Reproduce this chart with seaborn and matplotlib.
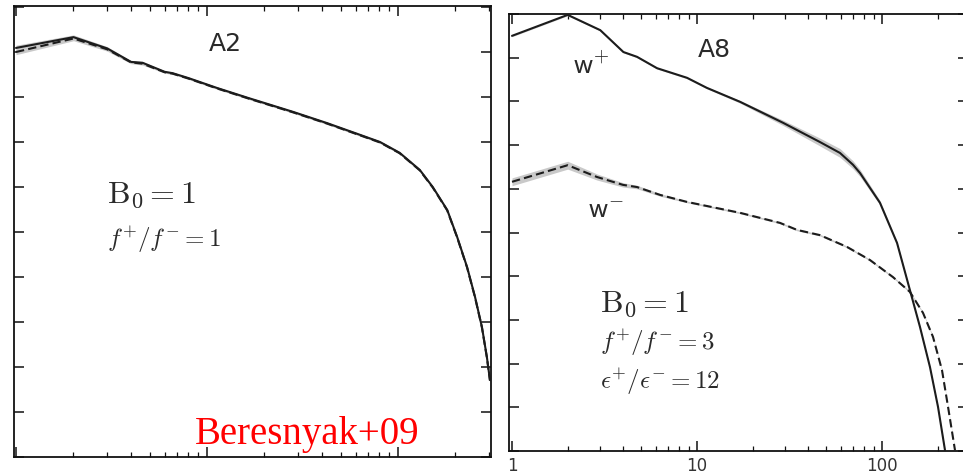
import numpy as np
import pandas as pd
import matplotlib
matplotlib.use("Agg")
import matplotlib.pyplot as plt
import seaborn as sns

# ---- spectra, log10 E(k) versus wavenumber k ----
# run A2 (balanced)
k_a2 = [1, 2, 3, 4, 4.6, 6, 6.6, 8, 11.3, 16.4, 28.2, 42.5, 63.2, 80.5, 102, 130, 152,
        181, 204, 230, 253, 275, 292, 303]
a2_plus = [-0.91, -0.67, -0.92, -1.22, -1.24, -1.44, -1.47, -1.58, -1.80, -2.02, -2.33, -2.58,
           -2.84, -3.00, -3.24, -3.62, -4.00, -4.51, -5.11, -5.78, -6.44, -7.11, -7.78, -8.29]
a2_minus = [-1.00, -0.70, -0.94, -1.23, -1.26, -1.45, -1.48, -1.59, -1.81, -2.03, -2.34, -2.59,
            -2.85, -3.01, -3.25, -3.63, -4.01, -4.52, -5.12, -5.79, -6.45, -7.12, -7.79, -8.30]
a2_band = [0.06, 0.05, 0.04, 0.03, 0.03, 0.02, 0.02, 0.02, 0.02, 0.02, 0.02, 0.02,
           0.02, 0.02, 0.02, 0.02, 0.02, 0.02, 0.02, 0.02, 0.02, 0.02, 0.02, 0.02]

# run A8 (imbalanced)
k_a8p = [1, 2, 3, 4, 4.74, 6.08, 8.83, 11.3, 17.1, 29.2, 46.2, 59.3, 69.7, 76.1, 97.5,
         120.6, 141.6, 160.4, 181.7, 200.8, 219]
a8_plus = [-0.50, -0.02, -0.37, -0.87, -0.98, -1.24, -1.46, -1.69, -2.01, -2.49, -2.93, -3.18,
           -3.45, -3.64, -4.32, -5.24, -6.32, -7.16, -8.08, -8.99, -9.98]
a8p_band = [0.02, 0.02, 0.02, 0.02, 0.02, 0.02, 0.02, 0.02, 0.03, 0.06, 0.09, 0.10,
            0.09, 0.08, 0.05, 0.03, 0.02, 0.02, 0.02, 0.02, 0.02]

k_a8m = [1, 2, 2.88, 3.98, 4.74, 6.32, 8.83, 17.1, 28.1, 34.7, 46.2, 64.7, 86.1, 114.6,
         141.6, 166.6, 188.7, 211, 227.5, 248]
a8_minus = [-3.84, -3.46, -3.73, -3.91, -3.96, -4.14, -4.30, -4.55, -4.78, -4.94, -5.06, -5.33,
            -5.63, -6.02, -6.36, -6.84, -7.39, -8.15, -8.99, -9.98]
a8m_band = [0.09, 0.09, 0.07, 0.05, 0.04, 0.03, 0.02, 0.02, 0.02, 0.02, 0.02, 0.02,
            0.02, 0.02, 0.02, 0.02, 0.02, 0.02, 0.02, 0.02]

x_ticklabels = ["1", "10", "100"]

sns.set_style("ticks")
plt.rcParams["font.family"] = ["DejaVu Sans"]
plt.rcParams["mathtext.fontset"] = "cm"

W, H = 963, 476
fig = plt.figure(figsize=(W / 100, H / 100), dpi=100)
fig.patch.set_facecolor("white")

ax1 = fig.add_axes([14 / W, 19 / H, 477 / W, 451 / H])
ax2 = fig.add_axes([509 / W, 25 / H, 459 / W, 437 / H])

line_col = "#1c1c1c"
band_col = "#c9c9c9"


def draw(ax, k, v, band, dashed):
    k = np.asarray(k, float)
    v = np.asarray(v, float)
    b = np.asarray(band, float)
    ax.fill_between(k, v - b, v + b, color=band_col, lw=0, zorder=1)
    df = pd.DataFrame({"k": k, "logE": v})
    sns.lineplot(data=df, x="k", y="logE", ax=ax, color=line_col, lw=1.5,
                 linestyle=(0, (4, 2)) if dashed else "-", zorder=3, sort=False)


draw(ax1, k_a2, a2_plus, a2_band, False)
draw(ax1, k_a2, a2_minus, a2_band, True)
draw(ax2, k_a8p, a8_plus, a8p_band, False)
draw(ax2, k_a8m, a8_minus, a8m_band, True)

ax1.set_xlim(10 ** (-2 / 191), 10 ** (475 / 191))
ax2.set_xlim(10 ** (-3 / 185), 10 ** (456 / 185))
ax1.set_ylim(-10, -10 + 451 / 45)
ax2.set_ylim(-10, 0.0)

for ax in (ax1, ax2):
    ax.set_xscale("log")
    ax.set_yticks(np.arange(-10, 1, 1))
    ax.set_xlabel("")
    ax.set_ylabel("")
    for s in ax.spines.values():
        s.set_visible(True)
        s.set_linewidth(1.3)
        s.set_color("#111111")
    ax.tick_params(axis="both", which="major", direction="in", length=7, width=1.1,
                   top=True, right=True, color="#111111")
    ax.tick_params(axis="x", which="minor", direction="in", length=3.5, width=0.9,
                   top=True, color="#111111")
    ax.tick_params(axis="y", labelleft=False)
    ax.set_facecolor("white")

ax1.tick_params(axis="x", which="both", labelbottom=False)
ax2.set_xticks([1, 10, 100])
ax2.set_xticklabels(x_ticklabels)
ax2.tick_params(axis="x", which="major", labelsize=12, labelcolor="#333333", pad=4)
ax2.tick_params(axis="x", which="minor", labelbottom=False)


def put(x, y, s, **kw):
    fig.text(x / W, 1 - y / H, s, **kw)


txt = "#2a2a2a"
put(225, 44, "A2", fontsize=18, ha="center", va="center", color=txt)
put(107, 203, r"$\mathrm{B}_0 = 1$", fontsize=23, ha="left", va="baseline", color=txt)
put(107, 247, r"$f^{+}/f^{-} = 1$", fontsize=18, ha="left", va="baseline", color=txt)
put(195, 444, "Beresnyak+09", fontsize=28, ha="left", va="baseline", color="red",
    family=["Liberation Serif"])

put(714, 50, "A8", fontsize=18, ha="center", va="center", color=txt)
put(573, 74, r"$\mathsf{w}^{+}$", fontsize=20, ha="left", va="baseline", color=txt)
put(588, 218, r"$\mathsf{w}^{-}$", fontsize=20, ha="left", va="baseline", color=txt)
put(600, 312, r"$\mathrm{B}_0 = 1$", fontsize=23, ha="left", va="baseline", color=txt)
put(600, 350, r"$f^{+}/f^{-} = 3$", fontsize=18, ha="left", va="baseline", color=txt)
put(600, 389, r"$\epsilon^{+}/\epsilon^{-} = 12$", fontsize=18, ha="left", va="baseline", color=txt)

fig.savefig("out.png", dpi=100, facecolor="white")
